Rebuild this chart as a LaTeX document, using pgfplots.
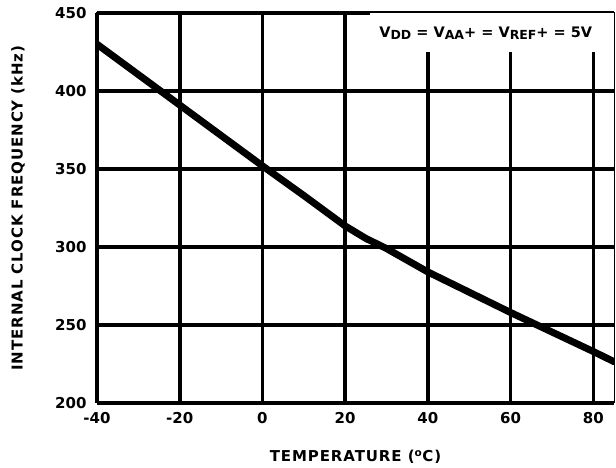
\documentclass[border=0pt]{standalone}
\usepackage{pgfplots}
\pgfplotsset{compat=1.18}
\usepackage{fontspec}
\setmainfont{DejaVu Sans}
\newfontfamily\lblfont[LetterSpace=6]{DejaVu Sans}
\newcommand{\sub}[1]{\raisebox{-0.3ex}{\fontsize{12.5}{13}\selectfont #1}}
\begin{document}
\begin{tikzpicture}
\begin{axis}[
 scale only axis, width=517pt, height=390pt,
 xmin=-40, xmax=85, ymin=200, ymax=450,
 xtick={-40,-20,0,20,40,60,80}, ytick={200,250,300,350,400,450},
 grid=major, major grid style={line width=3.6pt, black},
 axis line style={line width=1pt, black},
 major tick length=0pt,
 tick label style={font=\fontsize{15}{17}\selectfont\bfseries},
 /pgf/number format/assume math mode=true,
 xticklabel style={yshift=-6pt},
 yticklabel style={xshift=-7pt},
 xlabel={TEMPERATURE (\textsuperscript{o}C)},
 ylabel={INTERNAL CLOCK FREQUENCY (kHz)},
 label style={font=\lblfont\fontsize{15}{17}\selectfont\bfseries},
 xlabel style={at={(axis description cs:0.5,-0.138)}, anchor=center},
 ylabel style={at={(axis description cs:-0.153,0.5)}, anchor=center},
]
\addplot[black, line width=7pt, line join=round, line cap=round] coordinates {
(-40,430) (-30,410.5) (-20,391) (-10,371.5) (0,352) (10,333) (20,313.5) (25,305.5) (30,299) (40,284) (50,271) (60,258) (70,245.5) (80,233) (85,226.5)
};
\fill[white] (axis cs:26,425) rectangle (axis cs:85,452);
\draw[black, line width=1pt] (axis cs:26,450) -- (axis cs:85,450) -- (axis cs:85,425);
\node[font=\fontsize{14.5}{16}\selectfont\bfseries] at (axis cs:54,437) {V\sub{DD} = V\sub{AA}+ = V\sub{REF}+ = 5V};
\end{axis}
\path ([shift={(-97pt,-65pt)}]current axis.south west) rectangle ([shift={(2pt,13pt)}]current axis.north east);
\end{tikzpicture}
\end{document}
